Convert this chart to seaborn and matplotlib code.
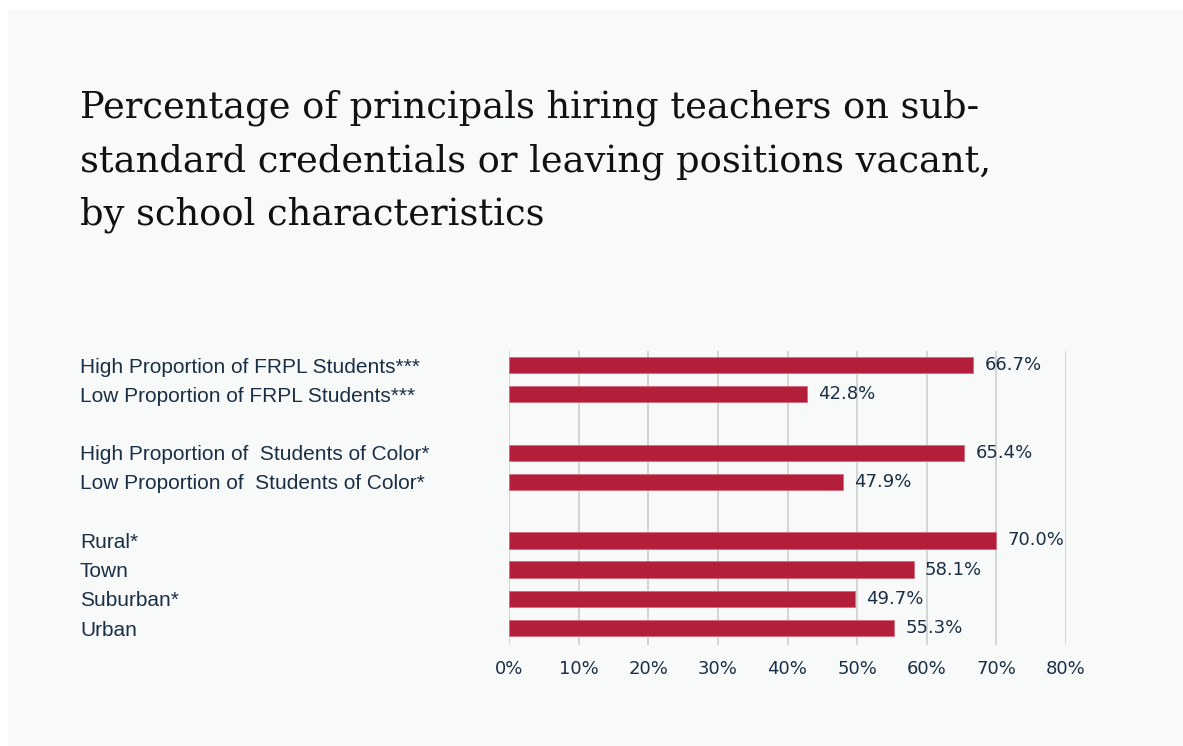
import matplotlib.pyplot as plt
import seaborn as sns
import pandas as pd
from matplotlib.patches import Rectangle

categories = [
    "High Proportion of FRPL Students***",
    "Low Proportion of FRPL Students***",
    "High Proportion of  Students of Color*",
    "Low Proportion of  Students of Color*",
    "Rural*",
    "Town",
    "Suburban*",
    "Urban",
]
values = [66.7, 42.8, 65.4, 47.9, 70.0, 58.1, 49.7, 55.3]
# blank slots separate the three groups
order = categories[:2] + [" "] + categories[2:4] + ["  "] + categories[4:]
xticks = [0, 10, 20, 30, 40, 50, 60, 70, 80]

title = ("Percentage of principals hiring teachers on sub-\n"
         "standard credentials or leaving positions vacant,\n"
         "by school characteristics")

BAR = "#b31f3b"
INK = "#1b2f45"
BG = "#f8f9f9"

df = pd.DataFrame({"label": categories, "value": values})

sns.set_style("white")
fig = plt.figure(figsize=(11.83, 7.46), dpi=100, facecolor="white")
fig.patches.append(Rectangle((8 / 1183, 0), 1, 1 - 9 / 746,
                             transform=fig.transFigure, facecolor=BG,
                             edgecolor="none", zorder=-10))

ax = fig.add_axes([509 / 1183, 1 - 645 / 746, (1066 - 509) / 1183, (645 - 351) / 746])
ax.set_facecolor("none")

sns.barplot(data=df, x="value", y="label", order=order, color=BAR,
            width=0.56, saturation=1, edgecolor="#d66a7d", linewidth=0.6, ax=ax)

ax.set_xlim(0, 80)
ax.set_ylim(9.58, -0.48)
ax.set_xticks(xticks)
ax.set_xticklabels([f"{t}%" for t in xticks], fontfamily="DejaVu Sans",
                   fontsize=13, color=INK)
ax.grid(axis="x", color="#d3d4d4", linewidth=1.4)
ax.set_axisbelow(True)
for s in ax.spines.values():
    s.set_visible(False)
ax.tick_params(axis="x", length=0, pad=11)
ax.tick_params(axis="y", length=0, pad=429 * 0.72)
for lbl in ax.get_yticklabels():
    lbl.set_horizontalalignment("left")
    lbl.set_fontfamily("Liberation Sans")
    lbl.set_fontsize(15)
    lbl.set_color(INK)
ax.set_xlabel("")
ax.set_ylabel("")

ax.bar_label(ax.containers[0], labels=[f"{v:.1f}%" for v in values], padding=8,
             fontfamily="DejaVu Sans", fontsize=13, color=INK)

fig.text(80 / 1183, 1 - 90 / 746, title, ha="left", va="top",
         fontfamily="DejaVu Serif", fontsize=26.5, color="#111111", linespacing=1.6)

fig.savefig("out.png", dpi=100, facecolor="white")
